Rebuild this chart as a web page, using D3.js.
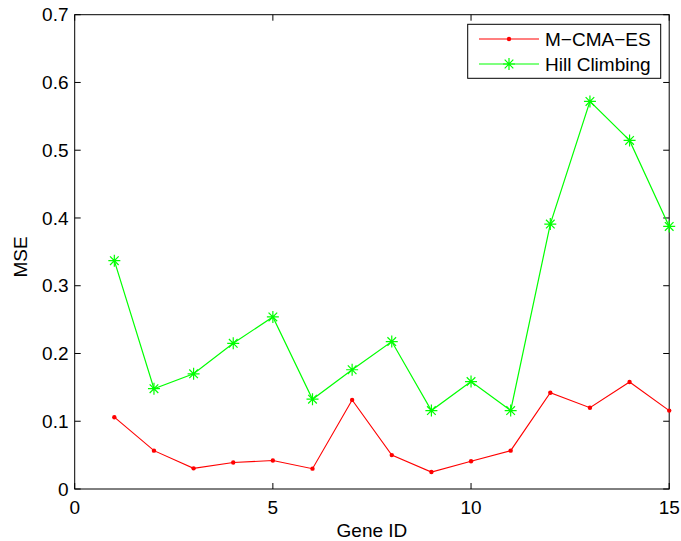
<!DOCTYPE html>
<html><head><meta charset="utf-8">
<script src="https://cdn.jsdelivr.net/npm/d3@7"></script>
<style>body{margin:0;background:#fff}svg{display:block}text{font-family:"Liberation Sans",Arial,sans-serif;fill:#000}</style>
</head><body>
<script>
const geneIds = [1,2,3,4,5,6,7,8,9,10,11,12,13,14,15];
const mcmaes = [0.106,0.0566,0.0305,0.039,0.042,0.030,0.1315,0.050,0.025,0.041,0.0566,0.142,0.120,0.158,0.1157];
const hillClimbing = [0.337,0.148,0.170,0.215,0.254,0.1325,0.176,0.2176,0.1157,0.1585,0.1157,0.391,0.572,0.5145,0.3875];
const xTicks = [0,5,10,15];
const yTicks = [0,0.1,0.2,0.3,0.4,0.5,0.6,0.7];
const seriesNames = ["M\u2212CMA\u2212ES","Hill Climbing"];

const W=681,H=541, L=74.7, R=669.2, T=14.7, B=489;
const svg=d3.select("body").append("svg").attr("width",W).attr("height",H);
const x=d3.scaleLinear().domain([0,15]).range([L,R]);
const y=d3.scaleLinear().domain([0,0.7]).range([B,T]);
const fs=19, tl=6;

// box
svg.append("rect").attr("x",L).attr("y",T).attr("width",R-L).attr("height",B-T)
  .attr("fill","none").attr("stroke","#000").attr("stroke-width",1);
// ticks
const g=svg.append("g").attr("stroke","#000").attr("stroke-width",1);
xTicks.forEach(v=>{
  g.append("line").attr("x1",x(v)).attr("x2",x(v)).attr("y1",B).attr("y2",B-tl);
  g.append("line").attr("x1",x(v)).attr("x2",x(v)).attr("y1",T).attr("y2",T+tl);
});
yTicks.forEach(v=>{
  g.append("line").attr("x1",L).attr("x2",L+tl).attr("y1",y(v)).attr("y2",y(v));
  g.append("line").attr("x1",R).attr("x2",R-tl).attr("y1",y(v)).attr("y2",y(v));
});
// tick labels
svg.selectAll(".xt").data(xTicks).enter().append("text")
  .attr("x",d=>x(d)).attr("y",514).attr("text-anchor","middle").attr("font-size",fs).text(d=>d);
svg.selectAll(".yt").data(yTicks).enter().append("text")
  .attr("x",68.5).attr("y",d=>y(d)).attr("dy","0.35em").attr("text-anchor","end").attr("font-size",fs)
  .text(d=>d3.format("")(+d.toFixed(1)));
// axis labels
svg.append("text").attr("x",(L+R)/2).attr("y",536.5).attr("text-anchor","middle").attr("font-size",fs).text("Gene ID");
svg.append("text").attr("transform","translate(27,257) rotate(-90)").attr("text-anchor","middle").attr("font-size",fs).text("MSE");

const line=d3.line().x((d,i)=>x(geneIds[i])).y(d=>y(d));
function star(sel,cx,cy,r){
  const a=r*0.72;
  sel.append("path").attr("d",`M${cx-r},${cy}H${cx+r}M${cx},${cy-r}V${cy+r}M${cx-a},${cy-a}L${cx+a},${cy+a}M${cx-a},${cy+a}L${cx+a},${cy-a}`)
    .attr("stroke","#00ff00").attr("stroke-width",1.2).attr("fill","none");
}
// green series
svg.append("path").datum(hillClimbing).attr("d",line).attr("fill","none").attr("stroke","#00ff00").attr("stroke-width",1.2);
const gs=svg.append("g");
hillClimbing.forEach((v,i)=>star(gs,x(geneIds[i]),y(v),6));
// red series
svg.append("path").datum(mcmaes).attr("d",line).attr("fill","none").attr("stroke","#ff0000").attr("stroke-width",1.1);
svg.selectAll(".rd").data(mcmaes).enter().append("circle")
  .attr("cx",(d,i)=>x(geneIds[i])).attr("cy",d=>y(d)).attr("r",2.2).attr("fill","#ff0000");

// legend
const lg=svg.append("g");
lg.append("rect").attr("x",467.7).attr("y",24.3).attr("width",193).attr("height",54)
  .attr("fill","#fff").attr("stroke","#000").attr("stroke-width",1);
const rows=[39,64];
lg.append("line").attr("x1",479).attr("x2",539).attr("y1",rows[0]).attr("y2",rows[0]).attr("stroke","#ff0000").attr("stroke-width",1.1);
lg.append("circle").attr("cx",509).attr("cy",rows[0]).attr("r",2.2).attr("fill","#ff0000");
lg.append("line").attr("x1",479).attr("x2",539).attr("y1",rows[1]).attr("y2",rows[1]).attr("stroke","#00ff00").attr("stroke-width",1.2);
star(lg,509,rows[1],6);
seriesNames.forEach((n,i)=>lg.append("text").attr("x",545).attr("y",rows[i]).attr("dy","0.35em").attr("font-size",fs).text(n));
</script>
</body></html>
